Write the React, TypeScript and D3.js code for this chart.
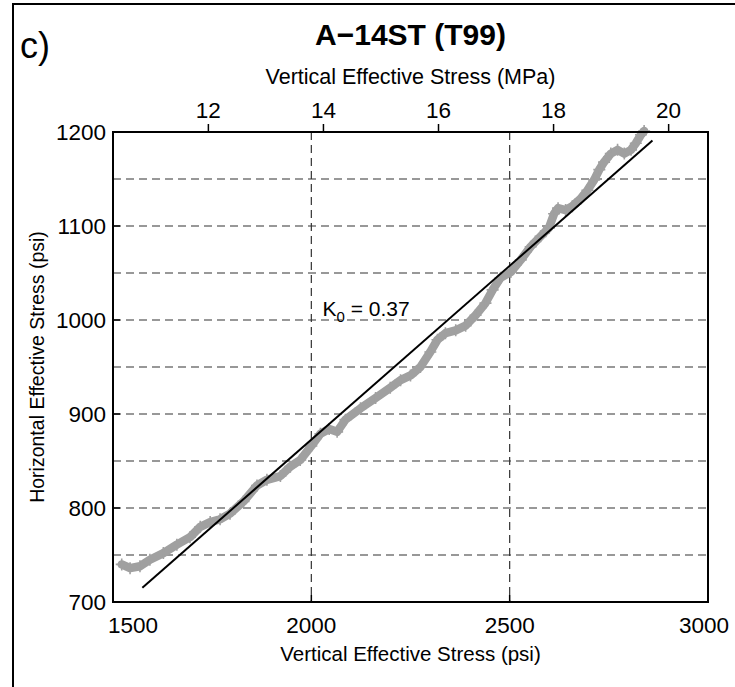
import React from 'react';
import * as d3 from 'd3';

// Measured stresses along the well (psi)
const verticalStress = [
  1522, 1543, 1568, 1593, 1627, 1661, 1694, 1720, 1745, 1770, 1795, 1829, 1863, 1888, 1922, 1947,
  1972, 2000, 2023, 2045, 2065, 2086, 2124, 2162, 2199, 2225, 2250, 2275, 2300, 2318, 2338, 2364,
  2389, 2414, 2439, 2457, 2477, 2503, 2528, 2553, 2578, 2599, 2612, 2622, 2641, 2658, 2679, 2696,
  2713, 2726, 2738, 2755, 2772, 2789, 2806, 2818, 2831, 2839,
];
const horizontalStress = [
  740, 736, 738, 745, 752, 761, 769, 780, 785, 788, 794, 807, 824, 830, 834, 844,
  851, 866, 879, 884, 881, 894, 906, 917, 928, 936, 941, 950, 966, 979, 986, 989,
  994, 1005, 1018, 1032, 1045, 1051, 1064, 1078, 1089, 1098, 1113, 1119, 1117, 1121, 1129, 1138,
  1149, 1160, 1168, 1177, 1181, 1177, 1181, 1188, 1197, 1201,
];

// Linear trend Sh = K0 * Sv + b
const K0 = 0.37;
const fitIntercept = 132.7;
const fitRange = [1574, 2860];

const xTicks = [1500, 2000, 2500, 3000];
const yTicks = [700, 800, 900, 1000, 1100, 1200];
const xGrid = [2000, 2500];
const yGrid = [750, 800, 850, 900, 950, 1000, 1050, 1100, 1150];
const mpaTicks = [12, 14, 16, 18, 20];
const PSI_PER_MPA = 145.038;

const W = 735;
const H = 687;
const plot = { left: 113, right: 708, top: 132, bottom: 602 };
const FONT = '"Liberation Sans", Arial, Helvetica, sans-serif';

export default function App() {
  const x = d3.scaleLinear().domain([1500, 3000]).range([plot.left, plot.right]);
  const y = d3.scaleLinear().domain([700, 1200]).range([plot.bottom, plot.top]);

  const pts: [number, number][] = verticalStress.map((v, i) => [v, horizontalStress[i]]);
  const line = d3
    .line<[number, number]>()
    .x((d) => x(d[0]))
    .y((d) => y(d[1]));

  const fitPts: [number, number][] = fitRange.map((v) => [v, K0 * v + fitIntercept]);
  const gray = '#a0a0a0';
  const m = 6;

  return (
    <svg
      width={W}
      height={H}
      style={{ position: 'absolute', left: 0, top: 0, background: '#fff' }}
      fontFamily={FONT}
    >
      <rect x={0} y={0} width={W} height={H} fill="#fff" />
      {/* panel frame */}
      <rect x={13} y={4} width={W + 20} height={H + 20} fill="none" stroke="#000" strokeWidth={2} />
      <text x={20} y={58} fontSize={36}>c)</text>

      <text x={(plot.left + plot.right) / 2} y={45} fontSize={30} fontWeight="bold" textAnchor="middle">
        A−14ST (T99)
      </text>
      <text x={(plot.left + plot.right) / 2} y={84} fontSize={21.5} textAnchor="middle">
        Vertical Effective Stress (MPa)
      </text>

      {/* grid */}
      {yGrid.map((v) => (
        <line key={'gy' + v} x1={plot.left} x2={plot.right} y1={y(v)} y2={y(v)}
          stroke="#333" strokeWidth={1.2} strokeDasharray="8,5" />
      ))}
      {xGrid.map((v) => (
        <line key={'gx' + v} x1={x(v)} x2={x(v)} y1={plot.top} y2={plot.bottom}
          stroke="#333" strokeWidth={1.2} strokeDasharray="8,5" />
      ))}

      {/* data */}
      <path d={line(pts) || ''} fill="none" stroke={gray} strokeWidth={8.5} strokeLinejoin="round" strokeLinecap="round" />
      {pts.map((d, i) => (
        <path key={'p' + i}
          d={`M${x(d[0]) - m},${y(d[1])}H${x(d[0]) + m}M${x(d[0])},${y(d[1]) - m}V${y(d[1]) + m}`}
          stroke={gray} strokeWidth={1.6} />
      ))}

      {/* trend line */}
      <path d={line(fitPts) || ''} fill="none" stroke="#000" strokeWidth={2} />
      <text x={x(2028)} y={y(1004)} fontSize={21}>
        K<tspan dy={6} fontSize={15}>0</tspan><tspan dy={-6}> = 0.37</tspan>
      </text>

      {/* axes box */}
      <rect x={plot.left} y={plot.top} width={plot.right - plot.left} height={plot.bottom - plot.top}
        fill="none" stroke="#000" strokeWidth={2} />

      {/* bottom axis */}
      {xTicks.map((v, i) => (
        <g key={'xt' + v}>
          <line x1={x(v)} x2={x(v)} y1={plot.bottom} y2={plot.bottom - 7} stroke="#000" strokeWidth={1.5} />
          <text x={x(v) + (i === 0 ? 20 : i === xTicks.length - 1 ? -4 : 0)} y={plot.bottom + 31}
            fontSize={22.5} textAnchor="middle">{v}</text>
        </g>
      ))}
      <text x={(plot.left + plot.right) / 2} y={661} fontSize={20.5} textAnchor="middle">
        Vertical Effective Stress (psi)
      </text>

      {/* left axis */}
      {yTicks.map((v) => (
        <g key={'yt' + v}>
          <line x1={plot.left} x2={plot.left + 7} y1={y(v)} y2={y(v)} stroke="#000" strokeWidth={1.5} />
          <text x={plot.left - 7} y={y(v) + 8} fontSize={22.5} textAnchor="end">{v}</text>
        </g>
      ))}
      <text transform={`translate(44,${(plot.top + plot.bottom) / 2}) rotate(-90)`} fontSize={19.5} textAnchor="middle">
        Horizontal Effective Stress (psi)
      </text>

      {/* top axis in MPa */}
      {mpaTicks.map((v) => (
        <g key={'mt' + v}>
          <line x1={x(v * PSI_PER_MPA)} x2={x(v * PSI_PER_MPA)} y1={plot.top} y2={plot.top - 8}
            stroke="#000" strokeWidth={1.5} />
          <text x={x(v * PSI_PER_MPA)} y={plot.top - 14} fontSize={22.5} textAnchor="middle">{v}</text>
        </g>
      ))}
    </svg>
  );
}
